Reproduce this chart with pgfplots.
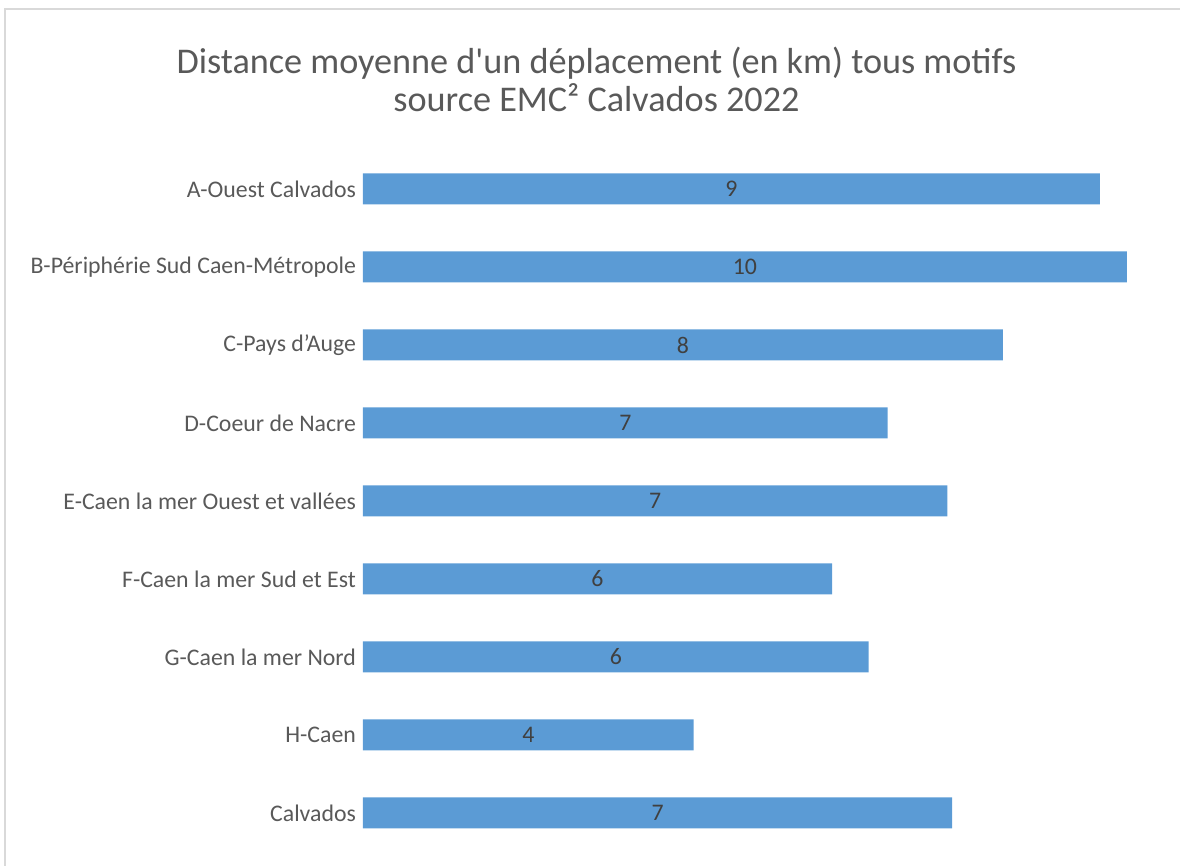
\documentclass[border=0pt]{standalone}
\usepackage{pgfplots}
\usepackage{pgfplotstable}
\pgfplotsset{compat=1.18}
\usepackage{fontspec}
\setmainfont{Carlito}
\definecolor{barblue}{HTML}{5B9BD5}
\definecolor{txt}{HTML}{595959}
\definecolor{lab}{HTML}{404040}
\definecolor{frame}{HTML}{D9D9D9}
\pgfplotstableread{
y v lab
0 9.27 9
1 9.61 10
2 8.05 8
3 6.60 7
4 7.35 7
5 5.90 6
6 6.36 6
7 4.16 4
8 7.41 7
}\datatable
\begin{document}
\begin{tikzpicture}[x=0.5pt,y=0.5pt]
\useasboundingbox (0,0) rectangle (1180,866);
\draw[frame, line width=1pt] (4.5,-5) -- (4.5,856.5) -- (1185,856.5);
\node[txt, font=\fontsize{18.1}{19}\selectfont, anchor=base] at (596.5,792) {Distance moyenne d\textquotesingle un déplacement (en km) tous motifs};
\node[txt, font=\fontsize{18.1}{19}\selectfont, anchor=base] at (596.5,754) {source EMC² Calvados 2022};
\begin{axis}[
  at={(181.5pt,7pt)}, anchor=south west,
  scale only axis, width=397.5pt, height=351pt,
  xmin=0, xmax=10, ymin=-0.5, ymax=8.5, y dir=reverse,
  axis line style={draw=none},
  xtick=\empty,
  ytick={0,...,8},
  yticklabels={A-Ouest Calvados,B-Périphérie Sud Caen-Métropole,C-Pays d’Auge,D-Coeur de Nacre,E-Caen la mer Ouest et vallées,F-Caen la mer Sud et Est,G-Caen la mer Nord,H-Caen,Calvados},
  major tick length=0pt,
  ytick style={draw=none},
  yticklabel style={txt, font=\fontsize{11.9}{13}\selectfont},
  clip=false,
]
\addplot[xbar, bar width=15.5pt, fill=barblue, draw=none] table[x=v, y=y] {\datatable};
\addplot[draw=none, mark=none, nodes near coords, point meta=explicit symbolic,
  nodes near coords style={anchor=center, lab, font=\fontsize{11.9}{13}\selectfont}]
  table[x expr=\thisrow{v}/2, y=y, meta=lab] {\datatable};
\end{axis}
\end{tikzpicture}
\end{document}
